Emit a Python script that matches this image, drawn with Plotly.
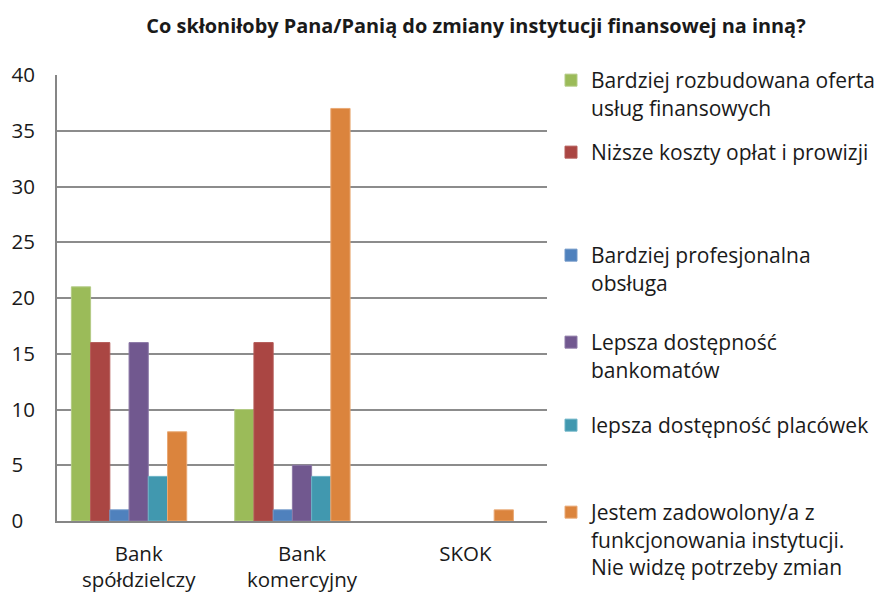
import plotly.graph_objects as go

title = "Co skłoniłoby Pana/Panią do zmiany instytucji finansowej na inną?"
categories = ["Bank<br>spółdzielczy", "Bank<br>komercyjny", "SKOK"]
series_names = [
    "Bardziej rozbudowana oferta<br>usług finansowych",
    "Niższe koszty opłat i prowizji",
    "Bardziej profesjonalna<br>obsługa",
    "Lepsza dostępność<br>bankomatów",
    "lepsza dostępność placówek",
    "Jestem zadowolony/a z<br>funkcjonowania instytucji.<br>Nie widzę potrzeby zmian",
]
values_oferta = [21, 10, 0]
values_koszty = [16, 16, 0]
values_obsluga = [1, 1, 0]
values_bankomaty = [16, 5, 0]
values_placowki = [4, 4, 0]
values_zadowolony = [8, 37, 1]
series_values = [values_oferta, values_koszty, values_obsluga,
                 values_bankomaty, values_placowki, values_zadowolony]
colors = ["#9BBB59", "#AA4643", "#4F81BD", "#71588F", "#4198AF", "#DB843D"]
edge_colors = ["#B3CB85", "#B45A57", "#7097C8", "#8C78A6", "#6CB3C6", "#E9A874"]
y_ticks = [0, 5, 10, 15, 20, 25, 30, 35, 40]

W, H = 876, 592
FONT = "Open Sans"
# first-line centre of each legend entry (px from top)
legend_centres = [80, 152, 255, 342, 425, 512]

fig = go.Figure()
for i, (name, vals) in enumerate(zip(series_names, series_values)):
    lname = "legend" if i == 0 else f"legend{i+1}"
    fig.add_trace(go.Bar(
        x=categories, y=vals, name=name,
        marker=dict(color=colors[i],
                    line=dict(color=edge_colors[i],
                              width=[1 if v > 0 else 0 for v in vals])),
        legend=lname,
    ))
# empty 7th slot (Excel reserves room for a hidden series)
fig.add_trace(go.Bar(x=categories, y=[0, 0, 0], showlegend=False,
                     marker=dict(color="rgba(0,0,0,0)", line=dict(width=0)),
                     hoverinfo="skip"))

layout_legends = {}
for i, c in enumerate(legend_centres):
    lname = "legend" if i == 0 else f"legend{i+1}"
    layout_legends[lname] = dict(
        x=551 / W, xref="container", xanchor="left",
        y=1 - (c - 20) / H, yref="container", yanchor="top",
        bgcolor="rgba(0,0,0,0)", borderwidth=0,
        font=dict(family=FONT, size=21, color="#1a1a1a"),
        valign="top", itemclick=False, itemdoubleclick=False,
    )

tick_text = [(str(v) + "\u2007") if v < 10 else str(v) for v in y_ticks]

fig.update_layout(
    width=W, height=H,
    margin=dict(l=57, r=W - 547, t=75, b=H - 521, autoexpand=False),
    paper_bgcolor="white", plot_bgcolor="white",
    title=dict(text="<b>" + title + "</b>", x=476 / W, xanchor="center",
               y=1 - 26 / H, yanchor="middle",
               font=dict(family=FONT, size=19.9, color="#1a1a1a")),
    bargap=0.176, bargroupgap=0,
    barmode="group",
    font=dict(family=FONT, size=21, color="#1a1a1a"),
    **layout_legends,
)
fig.update_xaxes(showline=True, linecolor="#868686", linewidth=2,
                 showgrid=False, ticks="", ticklabelstandoff=13,
                 automargin=False,
                 tickfont=dict(family=FONT, size=20.5, color="#1a1a1a"))
fig.update_yaxes(range=[0, 40], tickvals=y_ticks, ticktext=tick_text,
                 showline=True, linecolor="#868686", linewidth=2,
                 showgrid=True, gridcolor="#8C8C8C", gridwidth=1.5,
                 zeroline=False, ticks="", ticklabelstandoff=16,
                 automargin=False,
                 tickfont=dict(family=FONT, size=20.5, color="#1a1a1a"))

fig.write_html("out.html",
               config={"displayModeBar": False},
               post_script="document.body.style.margin='0px';")
